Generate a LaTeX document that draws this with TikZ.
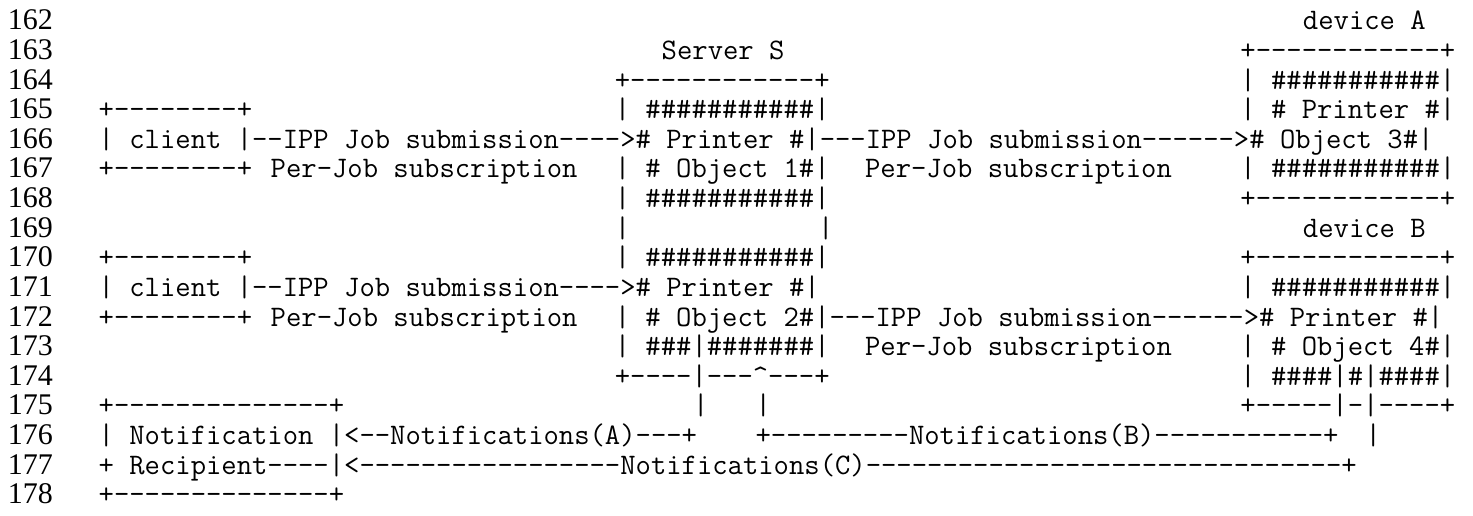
\documentclass[tikz,border=0pt]{standalone}
\usepackage{fontspec}
\newfontfamily\numfont{Liberation Serif}
\ExplSyntaxOn
\cs_new:Npn \dashrun #1 {\prg_replicate:nn{#1}{-\kern0pt}}
\cs_new:Npn \hashrun #1 {\prg_replicate:nn{#1}{\#}}
\ExplSyntaxOff
\begin{document}
\begin{tikzpicture}[x=15.64pt, y=-29.6pt,
  mono/.style={anchor=base west, inner sep=0pt, outer sep=0pt, font=\fontsize{29.79}{30}\selectfont\ttfamily},
  num/.style={anchor=base west, inner sep=0pt, outer sep=0pt, font=\fontsize{30}{30}\selectfont\numfont}]
\useasboundingbox[fill=white] (0pt,0pt) rectangle (1473pt,-516pt);
% line numbers
\begin{scope}[xshift=8pt, yshift=-30pt]
\foreach \r in {0,...,16}{
  \pgfmathtruncatemacro\ln{162+\r}
  \node[num] (ln\ln) at (0,\r) {\ln};
}
\end{scope}
% ascii art
\begin{scope}[xshift=98.7pt, yshift=-30pt]
% 162
\node[mono] (devA) at (77,0) {device A};
% 163
\node[mono] (srvS) at (36,1) {Server S};
\node[mono] (r1b) at (73,1) {+\dashrun{12}+};
% 164
\node[mono] (r2a) at (33,2) {+\dashrun{12}+};
\node[mono] (r2b) at (73,2) {| \hashrun{11}|};
% 165
\node[mono] (r3a) at (0,3) {+\dashrun{8}+};
\node[mono] (r3b) at (33,3) {| \hashrun{11}|};
\node[mono] (r3c) at (73,3) {| \# Printer \#|};
% 166
\node[mono] (r4a) at (0,4) {| client |\dashrun{2}IPP Job submission\dashrun{4}>\# Printer \#|\dashrun{3}IPP Job submission\dashrun{6}>\# Object 3\#|};
% 167
\node[mono] (r5a) at (0,5) {+\dashrun{8}+};
\node[mono] (r5b) at (11,5) {Per-Job subscription};
\node[mono] (r5c) at (33,5) {| \# Object 1\#|};
\node[mono] (r5d) at (49,5) {Per-Job subscription};
\node[mono] (r5e) at (73,5) {| \hashrun{11}|};
% 168
\node[mono] (r6a) at (33,6) {| \hashrun{11}|};
\node[mono] (r6b) at (73,6) {+\dashrun{12}+};
% 169
\node[mono] (r7a) at (33,7) {|};
\node[mono] (r7b) at (46,7) {|};
\node[mono] (devB) at (77,7) {device B};
% 170
\node[mono] (r8a) at (0,8) {+\dashrun{8}+};
\node[mono] (r8b) at (33,8) {| \hashrun{11}|};
\node[mono] (r8c) at (73,8) {+\dashrun{12}+};
% 171
\node[mono] (r9a) at (0,9) {| client |\dashrun{2}IPP Job submission\dashrun{4}>\# Printer \#|};
\node[mono] (r9b) at (73,9) {| \hashrun{11}|};
% 172
\node[mono] (r10a) at (0,10) {+\dashrun{8}+};
\node[mono] (r10b) at (11,10) {Per-Job subscription};
\node[mono] (r10c) at (33,10) {| \# Object 2\#|\dashrun{3}IPP Job submission\dashrun{6}>\# Printer \#|};
% 173
\node[mono] (r11a) at (33,11) {| \hashrun{3}|\hashrun{7}|};
\node[mono] (r11b) at (49,11) {Per-Job subscription};
\node[mono] (r11c) at (73,11) {| \# Object 4\#|};
% 174
\node[mono] (r12a) at (33,12) {+\dashrun{4}|\dashrun{3}\textasciicircum\dashrun{3}+};
\node[mono] (r12b) at (73,12) {| \hashrun{4}|\#|\hashrun{4}|};
% 175
\node[mono] (r13a) at (0,13) {+\dashrun{14}+};
\node[mono] (r13b) at (38,13) {|};
\node[mono] (r13c) at (42,13) {|};
\node[mono] (r13d) at (73,13) {+\dashrun{5}|-|\dashrun{4}+};
% 176
\node[mono] (r14a) at (0,14) {| Notification |<\dashrun{2}Notifications(A)\dashrun{3}+};
\node[mono] (r14b) at (42,14) {+\dashrun{9}Notifications(B)\dashrun{11}+};
\node[mono] (r14c) at (81,14) {|};
% 177
\node[mono] (r15a) at (0,15) {+ Recipient\dashrun{4}|<\dashrun{17}Notifications(C)\dashrun{31}+};
% 178
\node[mono] (r16a) at (0,16) {+\dashrun{14}+};
\end{scope}
\end{tikzpicture}
\end{document}
